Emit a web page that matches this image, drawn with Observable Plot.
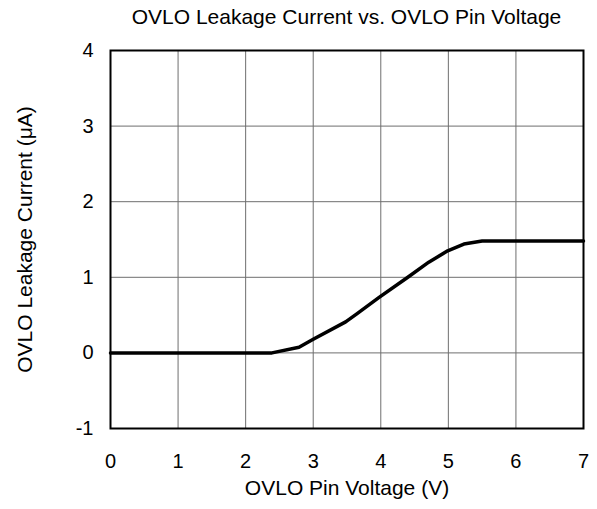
<!DOCTYPE html>
<html>
<head>
<meta charset="utf-8">
<script src="https://cdn.jsdelivr.net/npm/d3@7"></script>
<script src="https://cdn.jsdelivr.net/npm/@observablehq/plot@0.6"></script>
<style>
  body { margin: 0; background: #fff; font-family: "Liberation Sans", Arial, sans-serif; }
  #title { height: 36px; line-height: 34px; font-size: 21px; text-align: center; box-sizing: border-box; padding-left: 110px; padding-right: 14px; color: #000; white-space: nowrap; }
</style>
</head>
<body>
<div id="title">OVLO Leakage Current vs. OVLO Pin Voltage</div>
<div id="chart"></div>
<script>
const voltage = [0, 2.39, 2.79, 3.0, 3.48, 3.65, 3.97, 4.4, 4.71, 4.99, 5.23, 5.5, 7];
const current = [0, 0, 0.075, 0.18, 0.41, 0.52, 0.73, 1.0, 1.2, 1.35, 1.44, 1.48, 1.48];
const xTicks = [0, 1, 2, 3, 4, 5, 6, 7];
const yTicks = [-1, 0, 1, 2, 3, 4];
const xLabel = "OVLO Pin Voltage (V)";
const yLabel = "OVLO Leakage Current (μA)";

const data = voltage.map((v, i) => ({v, c: current[i]}));

const chart = Plot.plot({
  width: 597,
  height: 473,
  marginTop: 14,
  marginBottom: 81,
  marginLeft: 110,
  marginRight: 14,
  style: {fontFamily: "Liberation Sans, Arial, sans-serif", fontSize: "20px", color: "#000", background: "#fff"},
  x: {domain: [0, 7], ticks: xTicks, tickSize: 0, tickPadding: 25, label: null, tickFormat: d => String(d)},
  y: {domain: [-1, 4], ticks: yTicks, tickSize: 0, tickPadding: 17, label: null, tickFormat: d => String(d)},
  marks: [
    Plot.ruleX(xTicks, {stroke: "#6e6e6e", strokeWidth: 1}),
    Plot.ruleY(yTicks, {stroke: "#6e6e6e", strokeWidth: 1}),
    Plot.line(data, {x: "v", y: "c", stroke: "#000", strokeWidth: 3.5, strokeLinejoin: "round"}),
    Plot.frame({stroke: "#000", strokeWidth: 2}),
    Plot.text([xLabel], {frameAnchor: "bottom", dy: 60, text: d => d, fontSize: 21, lineAnchor: "middle", textAnchor: "middle"}),
    Plot.text([yLabel], {frameAnchor: "left", dx: -85, rotate: -90, text: d => d, fontSize: 21, lineAnchor: "middle", textAnchor: "middle"})
  ]
});
document.getElementById("chart").appendChild(chart);
</script>
</body>
</html>
